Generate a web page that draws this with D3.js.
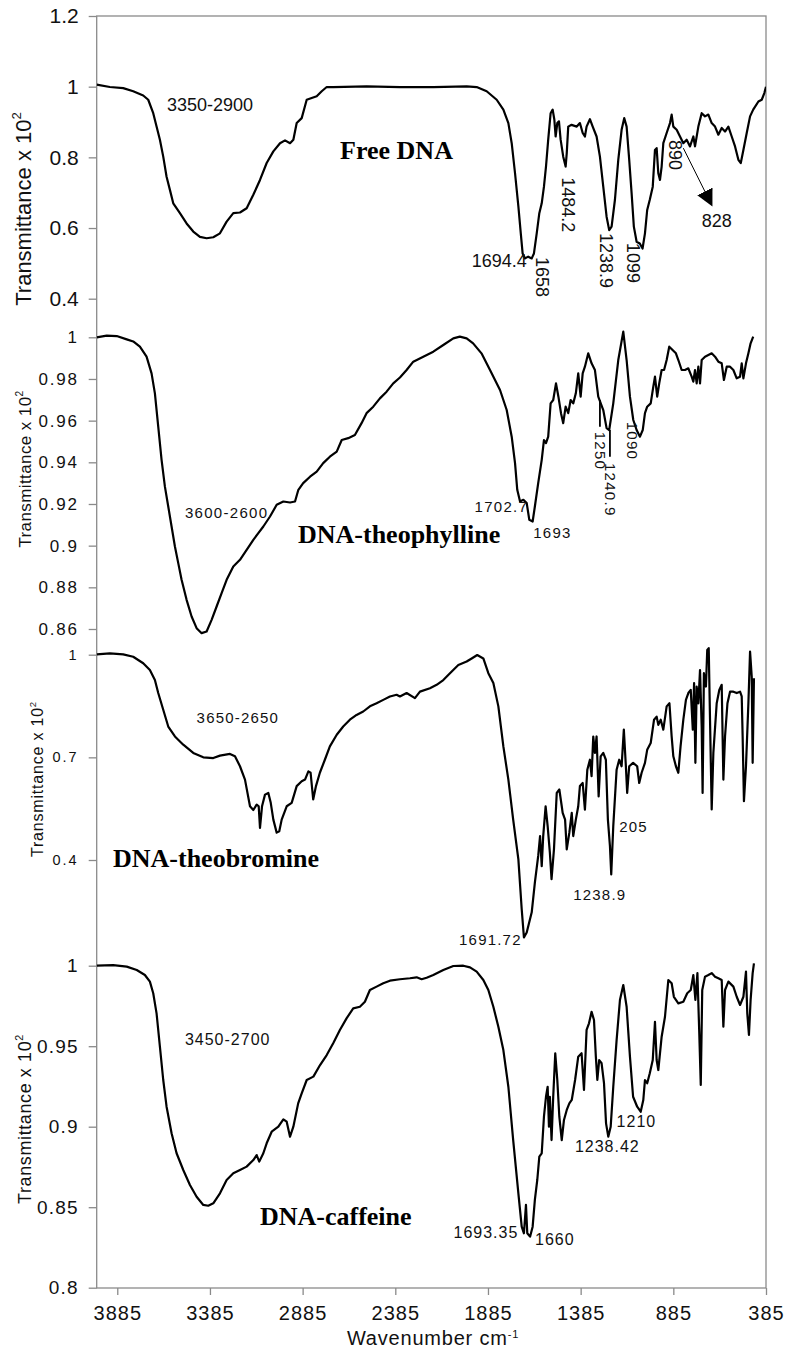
<!DOCTYPE html>
<html><head><meta charset="utf-8">
<script src="https://cdn.jsdelivr.net/npm/d3@7"></script>
<style>body{margin:0;background:#fff}</style>
</head><body><svg id="c" width="790" height="1351"></svg>
<script>
// ---------- data ----------
const xTicks = [3885,3385,2885,2385,1885,1385,885,385];
const ticksFree = [1.2,1,0.8,0.6,0.4];
const ticksTheophylline = [1,0.98,0.96,0.94,0.92,0.9,0.88,0.86];
const ticksTheobromine = [1,0.7,0.4];
const ticksCaffeine = [1,0.95,0.9,0.85,0.8];

const freeDNA = [[3996,1.006],[3925,0.999],[3853,0.996],[3799,0.987],[3745,0.975],[3718,0.963],[3691,0.925],[3673,0.887],[3655,0.850],[3637,0.802],[3619,0.745],[3601,0.708],[3583,0.670],[3547,0.642],[3511,0.613],[3475,0.590],[3439,0.575],[3403,0.571],[3367,0.574],[3331,0.585],[3295,0.618],[3259,0.642],[3223,0.644],[3187,0.656],[3151,0.694],[3115,0.736],[3079,0.784],[3043,0.817],[3007,0.840],[2980,0.848],[2953,0.840],[2935,0.850],[2917,0.897],[2890,0.911],[2863,0.963],[2836,0.968],[2809,0.973],[2782,0.987],[2755,0.999],[2720,0.999],[2540,1.001],[2360,0.999],[2180,0.999],[2000,1.001],[1946,0.999],[1892,0.987],[1838,0.963],[1802,0.935],[1775,0.897],[1757,0.840],[1739,0.755],[1721,0.661],[1708,0.585],[1698,0.528],[1685,0.514],[1668,0.519],[1649,0.514],[1637,0.528],[1622,0.585],[1608,0.642],[1595,0.670],[1583,0.717],[1572,0.774],[1560,0.850],[1547,0.925],[1536,0.935],[1527,0.907],[1520,0.859],[1511,0.897],[1502,0.902],[1493,0.850],[1479,0.802],[1466,0.774],[1460,0.812],[1452,0.887],[1434,0.892],[1406,0.887],[1389,0.897],[1374,0.869],[1362,0.859],[1353,0.887],[1335,0.908],[1320,0.887],[1299,0.859],[1281,0.802],[1263,0.717],[1245,0.632],[1231,0.594],[1218,0.604],[1200,0.680],[1182,0.793],[1164,0.878],[1150,0.911],[1137,0.887],[1123,0.793],[1110,0.698],[1098,0.604],[1083,0.561],[1066,0.556],[1051,0.542],[1038,0.585],[1026,0.651],[1012,0.680],[996,0.717],[984,0.821],[975,0.826],[966,0.755],[957,0.736],[948,0.774],[939,0.840],[921,0.869],[903,0.897],[894,0.921],[885,0.887],[867,0.878],[849,0.859],[831,0.840],[813,0.850],[795,0.831],[777,0.859],[768,0.831],[750,0.887],[732,0.925],[714,0.916],[696,0.921],[678,0.897],[660,0.887],[642,0.864],[624,0.883],[606,0.873],[588,0.887],[570,0.859],[552,0.831],[534,0.793],[521,0.784],[507,0.821],[489,0.869],[471,0.916],[454,0.935],[426,0.958],[408,0.963],[394,0.982],[385,1.0]];

const dnaTheophylline = [[3996,1.000],[3942,1.0008],[3888,1.0006],[3834,0.999],[3799,0.998],[3763,0.9955],[3727,0.9907],[3700,0.9827],[3682,0.9731],[3664,0.9571],[3646,0.9412],[3628,0.9283],[3610,0.9188],[3592,0.9092],[3574,0.8996],[3556,0.8916],[3538,0.8836],[3511,0.874],[3484,0.866],[3457,0.8604],[3430,0.858],[3403,0.8588],[3376,0.8644],[3349,0.8708],[3322,0.8772],[3295,0.8836],[3259,0.89],[3223,0.8932],[3187,0.898],[3151,0.9028],[3124,0.906],[3097,0.9092],[3061,0.914],[3025,0.9196],[2989,0.9212],[2953,0.9207],[2926,0.9212],[2908,0.9268],[2882,0.93],[2845,0.9331],[2809,0.9355],[2774,0.9396],[2738,0.9427],[2701,0.9451],[2674,0.9507],[2639,0.9516],[2603,0.9531],[2567,0.9588],[2540,0.9636],[2504,0.9667],[2468,0.9707],[2432,0.9739],[2396,0.9779],[2360,0.9807],[2324,0.9843],[2288,0.9883],[2234,0.9907],[2180,0.9931],[2126,0.9963],[2072,0.9995],[2037,1.0003],[2000,0.9995],[1965,0.9971],[1920,0.9923],[1874,0.9843],[1820,0.9747],[1784,0.9651],[1757,0.9523],[1739,0.9396],[1727,0.9268],[1712,0.9212],[1694,0.922],[1676,0.9204],[1662,0.9124],[1644,0.9116],[1632,0.9188],[1614,0.93],[1595,0.9412],[1583,0.9507],[1572,0.9492],[1560,0.9523],[1547,0.9683],[1533,0.9699],[1518,0.9779],[1505,0.9715],[1491,0.9636],[1479,0.9588],[1466,0.9667],[1452,0.9636],[1439,0.9699],[1425,0.9683],[1411,0.9731],[1398,0.9827],[1385,0.9715],[1374,0.9827],[1362,0.9859],[1344,0.9923],[1326,0.9875],[1308,0.9843],[1290,0.9715],[1263,0.9651],[1245,0.9564],[1231,0.9555],[1209,0.9683],[1182,0.9891],[1155,1.0027],[1137,0.9891],[1119,0.9715],[1101,0.9603],[1083,0.9555],[1065,0.9523],[1050,0.9555],[1038,0.9636],[1026,0.9667],[1007,0.9683],[993,0.9763],[984,0.9811],[972,0.9715],[961,0.9779],[948,0.9843],[935,0.9843],[921,0.9891],[907,0.9955],[889,0.9939],[871,0.9923],[858,0.9891],[840,0.9843],[822,0.9843],[804,0.9851],[786,0.9811],[777,0.9787],[768,0.9843],[759,0.9779],[750,0.9859],[741,0.9779],[732,0.9891],[714,0.9907],[696,0.9915],[678,0.9923],[660,0.9907],[642,0.9883],[624,0.9875],[612,0.9795],[597,0.9859],[579,0.9859],[561,0.9843],[543,0.9803],[525,0.9811],[516,0.9875],[507,0.9803],[493,0.9875],[480,0.9923],[468,0.9971],[454,1.0003]];

const dnaTheobromine = [[3996,1.001],[3925,1.004],[3853,1.001],[3799,0.994],[3745,0.975],[3709,0.955],[3682,0.926],[3664,0.888],[3637,0.839],[3610,0.79],[3574,0.761],[3529,0.737],[3475,0.713],[3421,0.7],[3367,0.698],[3331,0.705],[3277,0.71],[3250,0.703],[3223,0.674],[3196,0.635],[3169,0.557],[3151,0.546],[3133,0.562],[3122,0.557],[3115,0.494],[3104,0.557],[3088,0.591],[3070,0.596],[3057,0.567],[3043,0.518],[3025,0.48],[3011,0.484],[2998,0.518],[2971,0.557],[2944,0.567],[2917,0.616],[2890,0.63],[2872,0.635],[2854,0.659],[2842,0.655],[2828,0.577],[2813,0.616],[2792,0.655],[2765,0.693],[2738,0.732],[2701,0.766],[2666,0.79],[2630,0.81],[2594,0.824],[2558,0.834],[2522,0.849],[2486,0.858],[2450,0.868],[2414,0.878],[2378,0.883],[2360,0.878],[2324,0.888],[2279,0.873],[2252,0.892],[2198,0.902],[2162,0.912],[2126,0.926],[2090,0.946],[2045,0.97],[2000,0.98],[1973,0.989],[1943,0.999],[1910,0.989],[1883,0.946],[1856,0.917],[1829,0.849],[1802,0.732],[1775,0.635],[1749,0.518],[1721,0.402],[1703,0.256],[1691,0.174],[1676,0.188],[1649,0.247],[1632,0.334],[1614,0.412],[1604,0.47],[1595,0.382],[1587,0.47],[1574,0.557],[1563,0.499],[1551,0.421],[1542,0.344],[1529,0.431],[1514,0.596],[1500,0.606],[1487,0.557],[1482,0.538],[1469,0.518],[1460,0.431],[1446,0.48],[1433,0.538],[1425,0.47],[1411,0.518],[1398,0.557],[1389,0.616],[1374,0.625],[1362,0.547],[1349,0.664],[1335,0.693],[1326,0.645],[1317,0.761],[1308,0.713],[1299,0.761],[1288,0.586],[1277,0.703],[1263,0.713],[1249,0.693],[1238,0.518],[1227,0.441],[1220,0.358],[1209,0.499],[1191,0.664],[1177,0.693],[1164,0.674],[1152,0.781],[1141,0.674],[1134,0.596],[1123,0.674],[1102,0.684],[1080,0.674],[1069,0.625],[1056,0.655],[1038,0.684],[1026,0.722],[1007,0.742],[989,0.81],[975,0.819],[966,0.795],[953,0.81],[939,0.781],[921,0.849],[906,0.858],[894,0.761],[885,0.703],[871,0.674],[858,0.655],[846,0.732],[831,0.81],[817,0.868],[804,0.888],[791,0.897],[780,0.781],[773,0.917],[766,0.684],[759,0.907],[750,0.858],[741,0.955],[732,0.79],[727,0.596],[720,0.946],[709,0.907],[702,1.014],[694,1.019],[687,0.81],[678,0.548],[669,0.713],[651,0.858],[637,0.897],[624,0.912],[615,0.635],[606,0.761],[593,0.858],[579,0.892],[561,0.892],[543,0.888],[525,0.892],[516,0.878],[511,0.761],[504,0.572],[493,0.674],[480,0.858],[471,1.009],[462,0.936],[457,0.684],[450,0.931]];

const dnaCaffeine = [[3996,1.0],[3907,1.0004],[3834,0.9994],[3780,0.9973],[3736,0.9942],[3709,0.9901],[3691,0.9829],[3673,0.9704],[3655,0.9497],[3637,0.929],[3619,0.9124],[3592,0.8959],[3565,0.8835],[3529,0.8731],[3493,0.8638],[3457,0.8565],[3421,0.8514],[3394,0.8509],[3367,0.8524],[3331,0.8586],[3295,0.8669],[3259,0.8711],[3223,0.8731],[3187,0.8752],[3151,0.8793],[3133,0.8824],[3119,0.8783],[3097,0.8835],[3079,0.8897],[3052,0.8969],[3016,0.9],[2989,0.9046],[2971,0.9031],[2953,0.8938],[2935,0.9],[2909,0.9145],[2890,0.9207],[2863,0.929],[2827,0.9311],[2791,0.9383],[2755,0.9445],[2720,0.9518],[2684,0.9601],[2648,0.9673],[2612,0.9735],[2576,0.9745],[2549,0.9776],[2522,0.9849],[2486,0.987],[2450,0.9891],[2414,0.9907],[2360,0.9916],[2306,0.9922],[2270,0.9928],[2243,0.9916],[2216,0.9925],[2180,0.9942],[2126,0.9973],[2072,0.9998],[2018,1.0],[1982,0.999],[1946,0.9963],[1910,0.9911],[1883,0.9849],[1856,0.9745],[1829,0.9621],[1802,0.9476],[1775,0.9248],[1749,0.8917],[1721,0.8586],[1703,0.8379],[1691,0.8338],[1680,0.8514],[1673,0.8338],[1658,0.8317],[1644,0.8379],[1632,0.8545],[1619,0.8669],[1608,0.8814],[1595,0.8835],[1583,0.9062],[1572,0.9186],[1563,0.9248],[1556,0.9],[1551,0.9186],[1542,0.8917],[1533,0.9186],[1522,0.9456],[1511,0.929],[1500,0.9062],[1487,0.8917],[1475,0.9042],[1460,0.9104],[1446,0.9145],[1433,0.9166],[1415,0.929],[1398,0.9435],[1380,0.9456],[1367,0.9228],[1353,0.9601],[1340,0.9642],[1326,0.9714],[1313,0.9663],[1303,0.9435],[1295,0.929],[1285,0.9414],[1272,0.9394],[1259,0.927],[1248,0.9021],[1236,0.8938],[1223,0.9],[1209,0.9248],[1191,0.9538],[1173,0.9787],[1155,0.988],[1137,0.9745],[1119,0.9435],[1102,0.9186],[1080,0.9124],[1061,0.9093],[1047,0.9166],[1038,0.929],[1026,0.927],[1012,0.9332],[996,0.9414],[984,0.9652],[975,0.9414],[966,0.9352],[948,0.9559],[930,0.9683],[912,0.9911],[894,0.9891],[882,0.9807],[858,0.9766],[831,0.9776],[810,0.9829],[791,0.9849],[777,0.9942],[766,0.9787],[755,0.9954],[745,0.958],[737,0.9259],[729,0.9849],[714,0.9932],[696,0.9942],[678,0.9954],[660,0.9932],[642,0.9922],[624,0.9911],[615,0.9621],[606,0.9849],[588,0.9901],[561,0.987],[543,0.9807],[525,0.9756],[507,0.9807],[493,0.9963],[486,0.9704],[477,0.957],[468,0.9787],[457,0.9954],[450,1.0015]];

// annotations: [text, wavenumber, transmittance, rotated?, anchor]
const notesFree = [["3350-2900",3617,0.931,0,"start"],["1694.4",1676,0.491,0,"end"],["1658",1626,0.518,1,"start"],["1484.2",1486,0.744,1,"start"],["1238.9",1278,0.586,1,"start"],["1099",1135,0.558,1,"start"],["890",911,0.849,1,"start"],["828",732,0.602,0,"start"]];
const notesTheophylline = [["3600-2600",3520,0.9131,0,"start"],["1702.7",1668,0.9163,0,"end"],["1693",1641,0.9035,0,"start"],["1250",1308,0.9547,1,"start"],["1240.9",1251,0.9397,1,"start"],["1090",1135,0.9595,1,"start"]];
const notesTheobromine = [["3650-2650",3457,0.801,0,"start"],["205",1177,0.482,0,"start"],["1238.9",1425,0.283,0,"start"],["1691.72",1703,0.152,0,"end"]];
const notesCaffeine = [["3450-2700",3520,0.9507,0,"start"],["1693.35",1721,0.8307,0,"end"],["1660",1631,0.8265,0,"start"],["1210",1191,0.9,0,"start"],["1238.42",1416,0.8845,0,"start"]];
const arrowFree = [[831,0.826],[678,0.665]];
const leadersTheophylline = [[[1281,0.9699],[1281,0.9571]],[[1227,0.9555],[1227,0.9427]]];

// ---------- layout ----------
const L = 96.7, R = 766, T = 16, B = 1288;
const sans = "'Liberation Sans', Arial, sans-serif";
const serif = "'Liberation Serif', 'Times New Roman', serif";
const svg = d3.select("#c");
const x = d3.scaleLinear().domain([3996,385]).range([L,R]);

const panels = [
  {title:"Free DNA", data:freeDNA, ticks:ticksFree, dom:[0.4,1.2], rng:[298.7,16], tfs:21, tls:0, yt:{x:31,y:209,fs:22,ls:0}, tpos:[2683,0.795], notes:notesFree, nfs:18, nls:0},
  {title:"DNA-theophylline", data:dnaTheophylline, ticks:ticksTheophylline, dom:[0.86,1], rng:[629,337.3], tfs:17, tls:1.8, yt:{x:31,y:469,fs:17,ls:0.4}, tpos:[2910,0.9013], notes:notesTheophylline, nfs:15, nls:1.3},
  {title:"DNA-theobromine", data:dnaTheobromine, ticks:ticksTheobromine, dom:[0.4,1], rng:[860,654.7], tfs:14.5, tls:2, yt:{x:43,y:779,fs:16,ls:0.8}, tpos:[3908,0.380], notes:notesTheobromine, nfs:15, nls:1.2},
  {title:"DNA-caffeine", data:dnaCaffeine, ticks:ticksCaffeine, dom:[0.8,1], rng:[1287.7,965.7], tfs:19, tls:1.2, yt:{x:31,y:1119,fs:18,ls:0.6}, tpos:[3115,0.8389], notes:notesCaffeine, nfs:16, nls:1}
];

svg.append("defs").append("clipPath").attr("id","plot").append("rect")
  .attr("x",L).attr("y",T).attr("width",R-L).attr("height",B-T);
svg.select("defs").append("marker").attr("id","tri").attr("viewBox","0 0 10 10")
  .attr("refX",9).attr("refY",5).attr("markerWidth",17).attr("markerHeight",17)
  .attr("markerUnits","userSpaceOnUse").attr("orient","auto")
  .append("path").attr("d","M0,0 L10,5 L0,10 Z").attr("fill","#000");

// frame
svg.append("rect").attr("x",L).attr("y",T).attr("width",R-L).attr("height",B-T)
  .attr("fill","none").attr("stroke","#8a8a8a").attr("stroke-width",1.3);

panels.forEach((p,i)=>{
  const y = d3.scaleLinear().domain(p.dom).range(p.rng);
  const ax = svg.append("g").attr("transform",`translate(${L},0)`)
    .call(d3.axisLeft(y).tickValues(p.ticks).tickSize(8).tickPadding(10).tickFormat(d=>String(d)));
  ax.select(".domain").remove();
  ax.selectAll("line").attr("stroke","#8a8a8a").attr("stroke-width",1.3);
  ax.selectAll("text").attr("font-family",sans).attr("font-size",p.tfs)
    .attr("letter-spacing",p.tls).attr("fill","#111");
  const yt = svg.append("text").attr("transform",`translate(${p.yt.x},${p.yt.y}) rotate(-90)`)
    .attr("text-anchor","middle").attr("font-family",sans).attr("font-size",p.yt.fs)
    .attr("letter-spacing",p.yt.ls).attr("fill","#111");
  yt.append("tspan").text("Transmittance x 10");
  yt.append("tspan").attr("dy",-p.yt.fs*0.45).attr("font-size",p.yt.fs*0.6).text("2");
  const line = d3.line().x(d=>x(d[0])).y(d=>y(d[1]));
  svg.append("path").datum(p.data).attr("d",line).attr("clip-path","url(#plot)")
    .attr("fill","none").attr("stroke","#000").attr("stroke-width",2.2)
    .attr("stroke-linejoin","round");
  svg.append("text").attr("x",x(p.tpos[0])).attr("y",y(p.tpos[1]))
    .attr("font-family",serif).attr("font-weight","bold").attr("font-size",26)
    .attr("fill","#000").text(p.title);
  p.notes.forEach(n=>{
    const t = svg.append("text").attr("font-family",sans).attr("font-size",p.nfs)
      .attr("letter-spacing",p.nls).attr("fill","#111").attr("text-anchor",n[4]).text(n[0]);
    if(n[3]) t.attr("transform",`translate(${x(n[1])},${y(n[2])}) rotate(90)`);
    else t.attr("x",x(n[1])).attr("y",y(n[2]));
  });
  if(i===0){
    svg.append("line").attr("x1",x(arrowFree[0][0])).attr("y1",y(arrowFree[0][1]))
      .attr("x2",x(arrowFree[1][0])).attr("y2",y(arrowFree[1][1]))
      .attr("stroke","#000").attr("stroke-width",1).attr("marker-end","url(#tri)");
  }
  if(i===1){
    leadersTheophylline.forEach(l=>{
      svg.append("line").attr("x1",x(l[0][0])).attr("y1",y(l[0][1]))
        .attr("x2",x(l[1][0])).attr("y2",y(l[1][1])).attr("stroke","#000").attr("stroke-width",1.8);
    });
  }
});

// x axis
const xa = svg.append("g").attr("transform",`translate(0,${B})`)
  .call(d3.axisBottom(x).tickValues(xTicks).tickSize(7).tickFormat(d3.format("d")));
xa.select(".domain").remove();
xa.selectAll("line").attr("stroke","#8a8a8a").attr("stroke-width",1.3);
xa.selectAll("text").attr("font-family",sans).attr("font-size",20).attr("letter-spacing",1)
  .attr("fill","#111").attr("y",31.5).attr("dy",0);

const xt = svg.append("text").attr("x",433).attr("y",1345).attr("text-anchor","middle")
  .attr("font-family",sans).attr("font-size",20).attr("letter-spacing",0.8).attr("fill","#111");
xt.append("tspan").text("Wavenumber cm");
xt.append("tspan").attr("dy",-7).attr("font-size",11).text("-1");
</script>
</body></html>
